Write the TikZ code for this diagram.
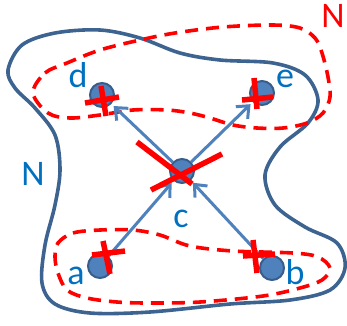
\documentclass[tikz,border=0pt]{standalone}
\usepackage{fontspec}
\setmainfont{Carlito}
\usetikzlibrary{arrows.meta}
\definecolor{blobc}{HTML}{3D6491}
\definecolor{nodefill}{HTML}{4F81BD}
\definecolor{nodeline}{HTML}{385D8A}
\definecolor{arrc}{HTML}{4F81BD}
\definecolor{txtc}{HTML}{0070C0}
\definecolor{redc}{HTML}{FF0000}
\tikzset{
  vert/.style={circle, fill=nodefill, draw=nodeline, line width=2pt, minimum size=24pt, inner sep=0pt},
  lbl/.style={text=txtc, font=\fontsize{36}{36}\selectfont, anchor=base, inner sep=0pt},
  rlbl/.style={text=redc, font=\fontsize{36}{36}\selectfont, anchor=base, inner sep=0pt},
  blob/.style={draw=blobc, line width=3.6pt},
  redloop/.style={draw=redc, line width=3.6pt, dash pattern=on 13pt off 8pt},
  arr/.style={draw=arrc, line width=3pt, -{Straight Barb[length=10pt,width=17pt]}, shorten >=3pt},
  xmark/.style={draw=redc, line width=5.5pt}
}
\begin{document}
\begin{tikzpicture}[x=1pt,y=-1pt]
\useasboundingbox (0,0) rectangle (347,325);
% blue blob
\draw[blob] plot[smooth cycle, tension=0.55] coordinates {
 (8,70) (22,45) (55,33) (100,30) (140,38) (180,53) (220,60) (273,63) (305,75)
 (318,100) (308,123) (280,147) (265,175) (275,205) (305,227) (337,243) (345,268)
 (330,290) (290,300) (230,304) (150,312) (90,313) (55,304) (42,283) (45,245)
 (55,205) (60,170) (55,135) (35,108) (15,88)};
% red dashed loops
\draw[redloop] plot[smooth cycle, tension=0.55] coordinates {
 (33,93) (45,73) (67,63) (100,50) (140,40) (175,33) (223,27) (273,25) (300,28)
 (315,38) (322,53) (328,77) (330,97) (323,113) (307,123) (283,128) (257,128)
 (233,125) (210,118) (190,113) (167,110) (133,110) (100,115) (70,118) (48,113)};
\draw[redloop] plot[smooth cycle, tension=0.55] coordinates {
 (58,243) (73,233) (100,230) (133,230) (160,235) (190,246) (233,251) (293,253)
 (318,257) (330,268) (322,280) (300,288) (263,296) (200,302) (150,303)
 (117,302) (87,298) (67,290) (58,273) (55,257)};
% vertices
\node[vert] (d) at (102,95) {};
\node[vert] (e) at (262,93) {};
\node[vert] (c) at (182,171) {};
\node[vert] (a) at (100,266) {};
\node[vert] (b) at (272,268) {};
% arrows
\draw[arr] (c) -- (d);
\draw[arr] (c) -- (e);
\draw[arr] (a) -- (c);
\draw[arr] (b) -- (c);
% labels
\node[lbl] (ld) at (78,87) {d};
\node[lbl] (le) at (285,87) {e};
\node[lbl] (lc) at (181,227) {c};
\node[lbl] (la) at (76,284) {a};
\node[lbl] (lb) at (295,284) {b};
\node[lbl] (lN) at (33,185) {N};
\node[rlbl] (rN) at (333,27) {N};
% red crosses
\draw[xmark] (85,103) -- (119,97);
\draw[xmark] (101,86) -- (106,116);
\draw[xmark] (242,100) -- (273,97);
\draw[xmark] (254,78) -- (257,109);
\draw[xmark] (137,142) -- (192,184);
\draw[xmark] (151,190) -- (222,154);
\draw[xmark] (92,255) -- (125,251);
\draw[xmark] (103,241) -- (110,274);
\draw[xmark] (243,256) -- (275,254);
\draw[xmark] (253,240) -- (257,273);
\end{tikzpicture}
\end{document}
